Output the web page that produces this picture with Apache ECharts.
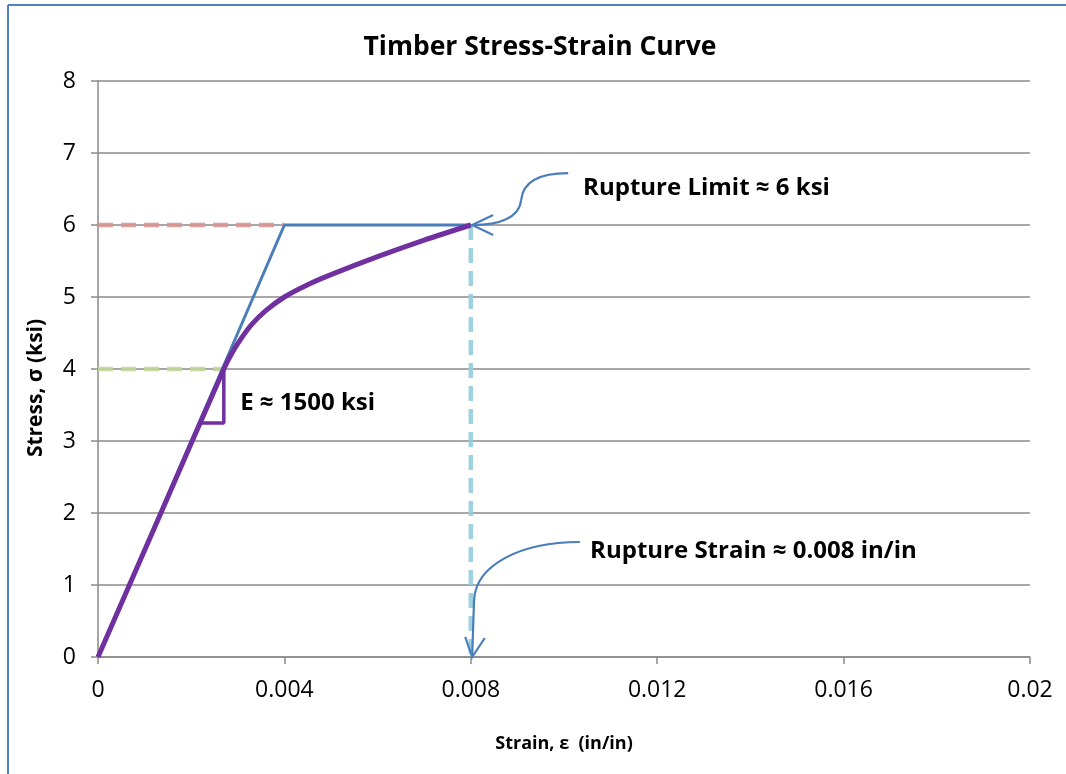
<!DOCTYPE html>
<html>
<head>
<meta charset="utf-8">
<script src="https://cdn.jsdelivr.net/npm/echarts@6/dist/echarts.min.js"></script>
<style>
html, body { margin: 0; padding: 0; background: #fff; }
#chart { width: 1066px; height: 774px; }
</style>
</head>
<body>
<div id="chart"></div>
<script>
// strain in in/in, stress in ksi
var curveStrain = [0, 0.00135, 0.0027, 0.0029, 0.0031, 0.0033, 0.0036, 0.004, 0.0045, 0.005, 0.006, 0.007, 0.008];
var curveStress = [0, 2.0, 4.0, 4.25, 4.45, 4.62, 4.81, 5.0, 5.17, 5.31, 5.56, 5.79, 6.0];

// idealised bilinear model
var bilinStrain = [0, 0.004, 0.008];
var bilinStress = [0, 6, 6];

// slope triangle for E
var triStrain = [0.0027, 0.0027, 0.0022];
var triStress = [4.0, 3.25, 3.25];

// guide lines
var limitGuide = [[0, 6], [0.004, 6]];
var propGuide = [[0, 4], [0.0027, 4]];
var ruptureGuide = [[0.008, 6], [0.008, 0]];

// annotation anchors (data units)
var limitLabelAt = [0.01041, 6.51];
var strainLabelAt = [0.01056, 1.47];
var eLabelAt = [0.00305, 3.53];
// arrow paths: start, ctrl1, ctrl2, end ... (data units)
var limitArrow = [
    [0.01009, 6.72], [0.00945, 6.72], [0.00912, 6.60], [0.00908, 6.347],
    [0.00904, 6.10], [0.00860, 6.0], [0.00805, 6.0]
];
var limitHead = [[0.00848, 6.139], [0.00803, 6.0], [0.00848, 5.861]];
var strainArrow = [
    [0.01034, 1.597], [0.00906, 1.597], [0.00811, 1.278], [0.00807, 0.792]
];
var strainTail = [[0.00807, 0.792], [0.00803, 0.02]];
var strainHead = [[0.00788, 0.278], [0.00803, 0.0], [0.00830, 0.264]];

function zip(xs, ys) {
    return xs.map(function (x, i) { return [x, ys[i]]; });
}

var FONT = '"Open Sans", "Liberation Sans", sans-serif';
var GRID_GRAY = '#8a8a8a';

var chart = echarts.init(document.getElementById('chart'));

function dashed(data, color) {
    return {
        type: 'line',
        data: data,
        showSymbol: false,
        silent: true,
        z: 2,
        lineStyle: {color: color, width: 4.5, type: [15, 8], opacity: 0.9}
    };
}

chart.setOption({
    animation: false,
    backgroundColor: '#fff',
    title: {
        text: 'Timber Stress-Strain Curve',
        left: 535,
        top: 29,
        textAlign: 'center',
        textStyle: {fontFamily: FONT, fontWeight: 'bold', fontSize: 26.5, color: '#000'}
    },
    grid: {left: 98, right: 36, top: 81, bottom: 117},
    xAxis: {
        type: 'value',
        min: 0,
        max: 0.02,
        interval: 0.004,
        name: 'Strain, ε  (in/in)',
        nameLocation: 'middle',
        nameGap: 78,
        nameTextStyle: {fontFamily: FONT, fontWeight: 'bold', fontSize: 18, color: '#000'},
        axisLine: {lineStyle: {color: GRID_GRAY, width: 1.5}},
        axisTick: {show: true, length: 7, lineStyle: {color: GRID_GRAY, width: 1.5}},
        splitLine: {show: false},
        axisLabel: {
            margin: 22,
            fontFamily: FONT,
            fontSize: 23,
            color: '#000',
            formatter: function (v) { return String(parseFloat(v.toFixed(3))); }
        }
    },
    yAxis: {
        type: 'value',
        min: 0,
        max: 8,
        interval: 1,
        name: 'Stress, σ (ksi)',
        nameLocation: 'middle',
        nameGap: 51,
        nameTextStyle: {fontFamily: FONT, fontWeight: 'bold', fontSize: 21, color: '#000', padding: [0, 38, 0, 0]},
        axisLine: {show: true, lineStyle: {color: GRID_GRAY, width: 1.5}},
        axisTick: {show: true, length: 7, lineStyle: {color: GRID_GRAY, width: 1.5}},
        splitLine: {show: true, lineStyle: {color: GRID_GRAY, width: 1.5}},
        axisLabel: {margin: 22, fontFamily: FONT, fontSize: 23, color: '#000'}
    },
    series: [
        dashed(limitGuide, '#d99694'),
        dashed(propGuide, '#c3d69b'),
        dashed(ruptureGuide, '#93cddd'),
        {
            type: 'line',
            data: zip(bilinStrain, bilinStress),
            showSymbol: false,
            silent: true,
            z: 3,
            lineStyle: {color: '#4a7ebb', width: 3}
        },
        {
            type: 'line',
            data: zip(curveStrain, curveStress),
            smooth: 0.3,
            showSymbol: false,
            silent: true,
            z: 4,
            lineStyle: {color: '#7030a0', width: 5}
        },
        {
            type: 'line',
            data: zip(triStrain, triStress),
            showSymbol: false,
            silent: true,
            z: 4,
            lineStyle: {color: '#7030a0', width: 3.5}
        }
    ]
});

// annotations placed through the axes
function px(p) { return chart.convertToPixel({gridIndex: 0}, p); }

var ARROW = {stroke: '#4a7ebb', lineWidth: 2.2, fill: null};

function bez(a, b, c, d) {
    var p0 = px(a), p1 = px(b), p2 = px(c), p3 = px(d);
    return {
        type: 'bezierCurve',
        shape: {x1: p0[0], y1: p0[1], cpx1: p1[0], cpy1: p1[1], cpx2: p2[0], cpy2: p2[1], x2: p3[0], y2: p3[1]},
        style: ARROW, z: 10
    };
}

function poly(pts) {
    return {type: 'polyline', shape: {points: pts.map(px)}, style: ARROW, z: 10};
}

function label(text, at) {
    var p = px(at);
    return {
        type: 'text', x: p[0], y: p[1], z: 10,
        style: {text: text, font: 'bold 24px ' + FONT, fill: '#000', textAlign: 'left', textVerticalAlign: 'middle'}
    };
}

chart.setOption({
    graphic: [
        {type: 'line', shape: {x1: 8, y1: 5, x2: 8, y2: 774}, style: {stroke: '#4f81bd', lineWidth: 2}},
        {type: 'line', shape: {x1: 8, y1: 5, x2: 1066, y2: 5}, style: {stroke: '#4f81bd', lineWidth: 2}},
        bez(limitArrow[0], limitArrow[1], limitArrow[2], limitArrow[3]),
        bez(limitArrow[3], limitArrow[4], limitArrow[5], limitArrow[6]),
        poly(limitHead),
        bez(strainArrow[0], strainArrow[1], strainArrow[2], strainArrow[3]),
        poly(strainTail),
        poly(strainHead),
        label('Rupture Limit ≈ 6 ksi', limitLabelAt),
        label('Rupture Strain ≈ 0.008 in/in', strainLabelAt),
        label('E ≈ 1500 ksi', eLabelAt)
    ]
});
</script>
</body>
</html>
